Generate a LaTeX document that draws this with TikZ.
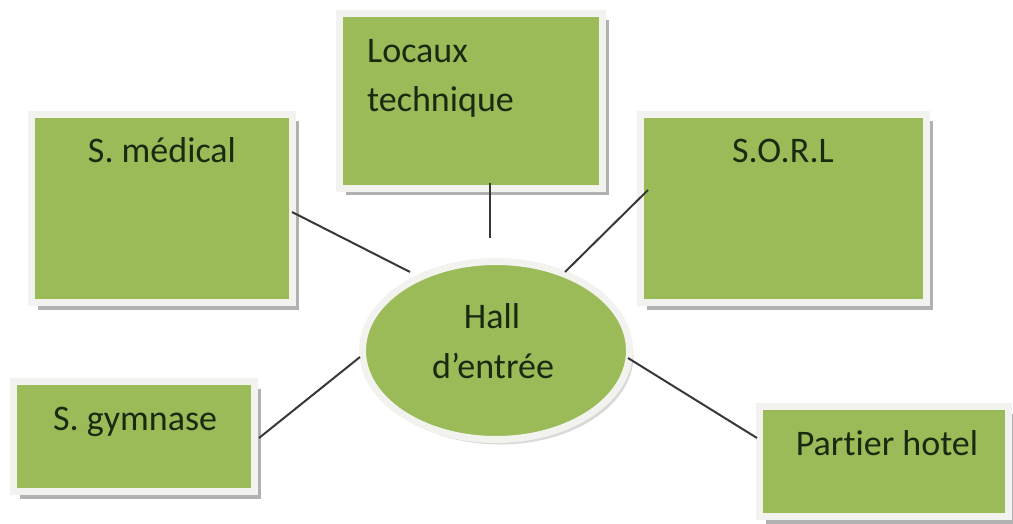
\documentclass[tikz,border=0pt]{standalone}
\usepackage{fontspec}
\setmainfont[RawFeature={-liga;-clig;-calt}]{Carlito}
\usetikzlibrary{shadows,shapes.geometric}
\definecolor{olive}{HTML}{9BBB59}
\definecolor{frame}{HTML}{F2F3EF}
\definecolor{ink}{HTML}{1A2A10}
\definecolor{wire}{HTML}{383838}
\tikzset{
  boxnode/.style={rectangle, fill=olive, draw=frame, line width=7pt, inner sep=0pt,
    drop shadow={shadow xshift=6pt, shadow yshift=-7pt, fill=black!38, opacity=0.8}},
  hallnode/.style={ellipse, fill=olive, draw=frame, line width=7pt, inner sep=0pt,
    drop shadow={shadow xshift=4pt, shadow yshift=-5pt, fill=black!25, opacity=0.6}},
  lbl/.style={inner sep=0pt, text=ink, font=\fontsize{36}{40}\selectfont},
  wirestyle/.style={draw=wire, line width=2pt}
}
\begin{document}
\begin{tikzpicture}[x=1pt,y=-1pt]
\useasboundingbox (0,0) rectangle (1013,524);
% boxes
\node[boxnode, minimum width=263pt, minimum height=175pt] (loc) at (471,101) {};
\node[boxnode, minimum width=261pt, minimum height=188pt] (med) at (162,208.5) {};
\node[boxnode, minimum width=286pt, minimum height=188pt] (sorl) at (783.5,208.5) {};
\node[boxnode, minimum width=241pt, minimum height=110pt] (gym) at (134,436.5) {};
\node[boxnode, minimum width=249pt, minimum height=110pt] (part) at (884,461.5) {};
\node[hallnode, minimum width=267pt, minimum height=178pt] (hall) at (496,350.5) {};
% labels
\node[lbl, anchor=base west] (locA) at (367,63) {Locaux};
\node[lbl, anchor=base west] (locB) at (367,112) {technique};
\node[lbl, anchor=base] (medT) at (162,163) {S. médical};
\node[lbl, anchor=base] (sorlT) at (783,163) {S.O.R.L};
\node[lbl, anchor=base west] (gymT) at (53,430) {S. gymnase};
\node[lbl, anchor=base] (partT) at (887,455) {Part\kern0pt ier hotel};
\node[lbl, anchor=base] (hallA) at (492,328) {Hall};
\node[lbl, anchor=base] (hallB) at (493,378) {d’entrée};
% connector ends
\coordinate (c1a) at (490,183); \coordinate (c1b) at (490,238);
\coordinate (c2a) at (292,212); \coordinate (c2b) at (410,272);
\coordinate (c3a) at (648,190); \coordinate (c3b) at (565,272);
\coordinate (c4a) at (259,438); \coordinate (c4b) at (360,357);
\coordinate (c5a) at (628,358); \coordinate (c5b) at (757,438);
\draw[wirestyle] (c1a) -- (c1b);
\draw[wirestyle] (c2a) -- (c2b);
\draw[wirestyle] (c3a) -- (c3b);
\draw[wirestyle] (c4a) -- (c4b);
\draw[wirestyle] (c5a) -- (c5b);
\end{tikzpicture}
\end{document}
